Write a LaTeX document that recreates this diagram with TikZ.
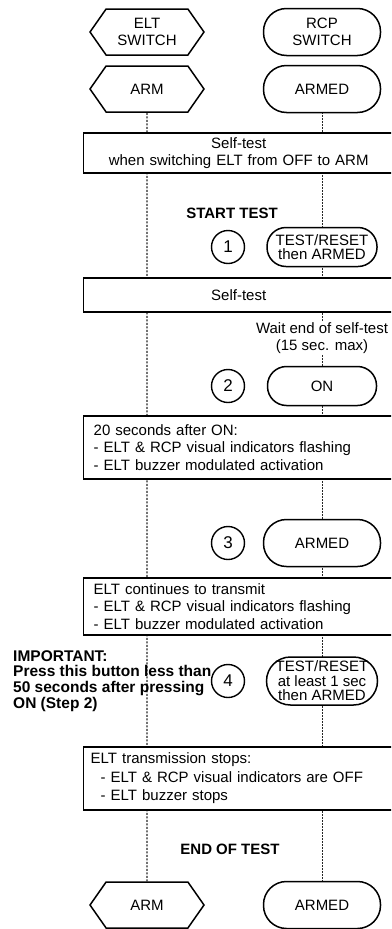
\documentclass[tikz,border=0pt]{standalone}
\usepackage{fontspec}
\setmainfont{Liberation Sans}
\usetikzlibrary{positioning,shapes.symbols,backgrounds}

\begin{document}
\begin{tikzpicture}[x=1pt, y=-1pt, every node/.style={
    font=\fontsize{15}{17}\selectfont,
    inner sep=0pt,
    align=center,
  },
  hexa/.style={signal, signal to=west and east, signal pointer angle=110,
    draw, line width=1.5pt, fill=white, minimum width=114pt, minimum height=46pt},
  pill/.style={rectangle, draw, line width=1.5pt, fill=white,
    minimum width=117pt, minimum height=47pt, rounded corners=23pt},
  smallpill/.style={pill, minimum width=110pt, minimum height=39pt, rounded corners=19pt},
  stepnum/.style={circle, draw, line width=1.4pt, minimum size=33pt,
    font=\fontsize{17}{17}\selectfont},
  infobox/.style={rectangle, draw, line width=1.4pt, fill=white, anchor=west,
    minimum width=310pt},
  listbox/.style={infobox, align=left, inner xsep=10pt, text width=290pt,
    font=\fontsize{15}{17.5}\selectfont},
  note/.style={font=\fontsize{15}{16}\selectfont\bfseries},
  eltline/.style={line width=1.2pt, dash pattern=on 2.2pt off 1.3pt, black!85},
  rcpline/.style={line width=0.8pt, dash pattern=on 0.8pt off 0.7pt, black!85},
  ]

  \clip (0,0) rectangle (391,929);

  % switches
  \node[hexa] (eltsw) at (147,32) {ELT\\SWITCH};
  \node[pill, right of=eltsw, node distance=175pt] (rcpsw) {RCP\\SWITCH};
  \node[hexa] (eltarm) at (147,89) {ARM};
  \node[pill, right of=eltarm, node distance=175pt] (rcparm) {ARMED};

  \node[infobox, text width=310pt, minimum height=40pt] (selftest) at (83,153)
    {Self-test\\when switching ELT from OFF to ARM};

  % step 1
  \node[note] (starttest) at (232,213) {START TEST};
  \node[smallpill, font=\fontsize{15}{14.5}\selectfont] (rcptest) at (322,247) {TEST/RESET\\then ARMED};
  \node[stepnum, left of=rcptest, node distance=94pt] (step1) {1};

  \node[infobox, text width=310pt, minimum height=34pt] (selftestb) at (83,295) {Self-test};

  % step 2
  \node[fill=white, inner sep=1pt] (wait) at (322,338) {Wait end of self-test\\(15 sec. max)};
  \node[smallpill, minimum width=109pt] (rcpon) at (322,386) {ON};
  \node[stepnum, left of=rcpon, node distance=94pt] (step2) {2};

  \node[listbox, minimum height=63pt] (flashing) at (83,447.5)
    {20 seconds after ON:\\- ELT \& RCP visual indicators flashing\\- ELT buzzer modulated activation};

  % step 3
  \node[pill] (rcparmb) at (322,543) {ARMED};
  \node[stepnum, left of=rcparmb, node distance=94pt] (step3) {3};

  \node[listbox, minimum height=57pt] (transmit) at (83,606.5)
    {ELT continues to transmit\\- ELT \& RCP visual indicators flashing\\- ELT buzzer modulated activation};

  % step 4
  \node[pill, minimum width=111pt, minimum height=48pt, rounded corners=24pt,
    font=\fontsize{15}{14.5}\selectfont] (rcpreset) at (322,681) {TEST/RESET\\at least 1 sec\\then ARMED};
  \node[stepnum, left of=rcpreset, node distance=94pt] (step4) {4};
  \node[note, anchor=west, align=left, font=\fontsize{15.5}{15.7}\selectfont\bfseries] (important) at (13,681)
    {IMPORTANT:\\Press this button less than\\50 seconds after pressing\\ON (Step 2)};

  \node[listbox, inner xsep=7pt, text width=296pt, minimum height=63pt,
    font=\fontsize{15}{18.5}\selectfont] (stops) at (83,778.5)
    {ELT transmission stops:\\\hspace*{10pt}- ELT \& RCP visual indicators are OFF\\\hspace*{10pt}- ELT buzzer stops};

  % end
  \node[note] (endtest) at (230,849) {END OF TEST};
  \node[hexa] (eltend) at (147,905) {ARM};
  \node[pill, right of=eltend, node distance=175pt] (rcpend) {ARMED};

  \begin{scope}[on background layer]
    \draw[eltline] (eltarm) -- (eltend);
    \draw[rcpline] (rcparm) -- (rcpend);
  \end{scope}

\end{tikzpicture}
\end{document}
